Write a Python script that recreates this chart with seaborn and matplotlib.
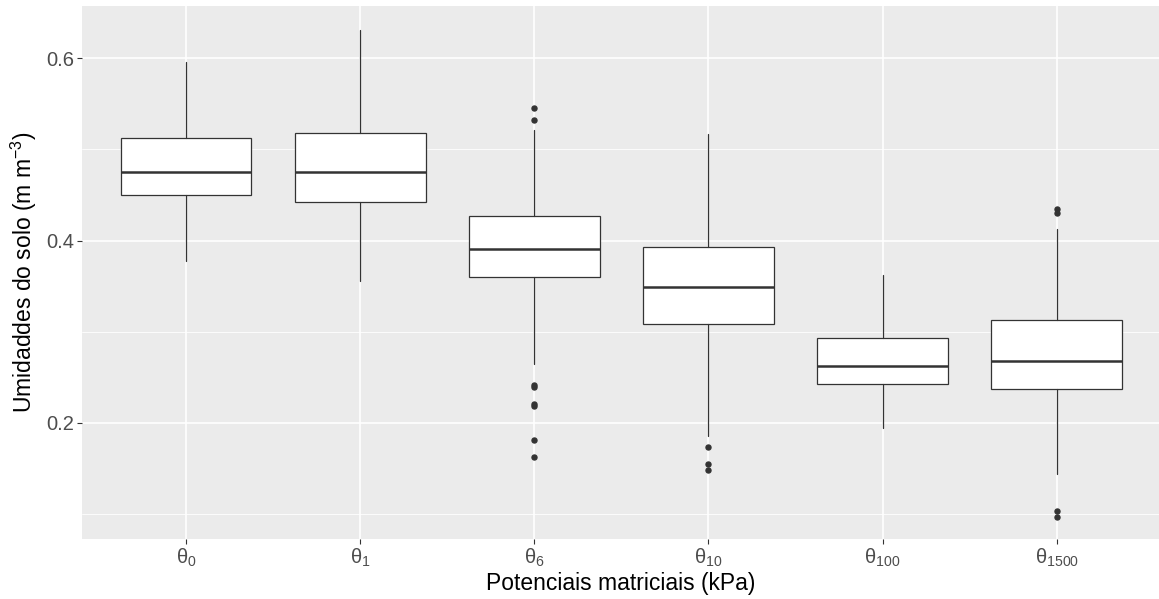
import matplotlib
matplotlib.use("Agg")
import matplotlib.pyplot as plt
import seaborn as sns

# ---- data ----
categories = ["θ$_{0}$", "θ$_{1}$", "θ$_{6}$", "θ$_{10}$", "θ$_{100}$", "θ$_{1500}$"]
whisker_low = [0.377, 0.356, 0.264, 0.185, 0.194, 0.144]
q1 = [0.450, 0.442, 0.360, 0.308, 0.243, 0.237]
median = [0.475, 0.475, 0.391, 0.349, 0.262, 0.268]
q3 = [0.513, 0.518, 0.427, 0.393, 0.293, 0.313]
whisker_high = [0.596, 0.631, 0.521, 0.517, 0.362, 0.413]
outliers = [
    [],
    [],
    [0.545, 0.532, 0.241, 0.239, 0.220, 0.218, 0.181, 0.162],
    [0.173, 0.155, 0.148],
    [],
    [0.435, 0.430, 0.103, 0.097],
]
y_major = [0.2, 0.4, 0.6]
y_minor = [0.1, 0.3, 0.5]
x_label = "Potenciais matriciais (kPa)"
y_label = "Umidaddes do solo (m m$^{-3}$)"

# ---- style ----
sns.set_theme(style="darkgrid", rc={
    "axes.facecolor": "#EBEBEB",
    "grid.color": "white",
    "axes.edgecolor": "#EBEBEB",
})
plt.rcParams["font.family"] = ["Liberation Sans", "DejaVu Sans"]
plt.rcParams["mathtext.fontset"] = "custom"
plt.rcParams["mathtext.rm"] = "Liberation Sans"
plt.rcParams["mathtext.it"] = "Liberation Sans:italic"
plt.rcParams["mathtext.default"] = "regular"

W, H = 1159, 599
fig = plt.figure(figsize=(W / 100, H / 100), dpi=100)
ax = fig.add_axes([81.7 / W, 59.7 / H, (W - 81.7) / W, 533.8 / H])

stats = []
for i, c in enumerate(categories):
    stats.append({
        "label": c,
        "whislo": whisker_low[i],
        "q1": q1[i],
        "med": median[i],
        "q3": q3[i],
        "whishi": whisker_high[i],
        "fliers": outliers[i],
    })

edge = "#333333"
ax.bxp(
    stats,
    positions=range(len(categories)),
    widths=0.75,
    patch_artist=True,
    showcaps=False,
    boxprops=dict(facecolor="white", edgecolor=edge, linewidth=0.9),
    whiskerprops=dict(color=edge, linewidth=0.9),
    medianprops=dict(color=edge, linewidth=1.8),
    flierprops=dict(marker="o", markerfacecolor=edge, markeredgecolor=edge,
                    markersize=3.6, linestyle="none"),
    zorder=3,
)

ax.set_xlim(-0.6, -0.6 + (W - 81.7) / 174.1)
ax.set_ylim(0.072, 0.658)
ax.set_xticks(range(len(categories)))
ax.set_xticklabels(categories)
ax.set_yticks(y_major)
ax.set_yticklabels([f"{v:.1f}" for v in y_major])
ax.set_yticks(y_minor, minor=True)

ax.grid(which="major", color="white", linewidth=1.2)
ax.grid(which="minor", axis="y", color="white", linewidth=0.6)
ax.set_axisbelow(True)
for s in ax.spines.values():
    s.set_visible(False)

ax.tick_params(axis="both", which="major", length=3.5, width=0.8, color=edge,
               labelcolor="#4D4D4D", labelsize=14.5, pad=2, bottom=True, left=True)
ax.tick_params(axis="y", which="minor", length=0, left=False)

ax.set_xlabel(x_label, fontsize=16.5, color="black", labelpad=2)
ax.set_ylabel(y_label, fontsize=16.5, color="black", labelpad=5)

fig.savefig("out.png", dpi=100)
